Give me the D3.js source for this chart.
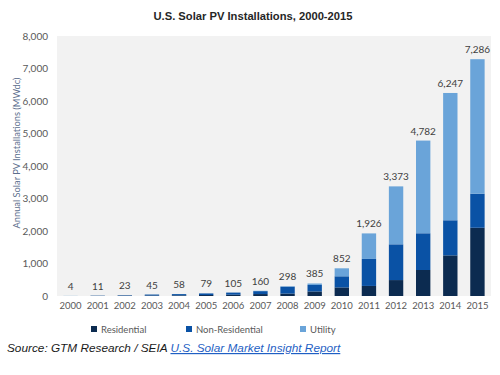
<!DOCTYPE html>
<html>
<head>
<meta charset="utf-8">
<script src="https://cdn.jsdelivr.net/npm/d3@7"></script>
<style>
  body { margin: 0; background: #fff; }
  svg { display: block; }
</style>
</head>
<body>
<svg id="chart"></svg>
<script>
var years = ["2000", "2001", "2002", "2003", "2004", "2005", "2006", "2007",
             "2008", "2009", "2010", "2011", "2012", "2013", "2014", "2015"];
var residential =    [0, 4, 10, 15, 20, 30, 40, 60, 75, 140, 264, 310, 490, 800, 1250, 2100];
var nonResidential = [0, 7, 13, 30, 38, 49, 65, 90, 213, 200, 342, 830, 1100, 1130, 1080, 1047];
var utility =        [4, 0, 0, 0, 0, 0, 0, 10, 10, 45, 246, 786, 1783, 2852, 3917, 4139];
var seriesNames = ["Residential", "Non-Residential", "Utility"];
var yTicks = [0, 1000, 2000, 3000, 4000, 5000, 6000, 7000, 8000];

var colors = ["#0c2b50", "#0a52a5", "#6aa4d9"];
var width = 500, height = 375;
var margin = {left: 57, right: 9, top: 36, bottom: 80};
var labelFont = "Lato, 'DejaVu Sans', sans-serif";

var svg = d3.select("#chart")
    .attr("width", width)
    .attr("height", height);

var rows = years.map((y, i) => ({
    year: y,
    "Residential": residential[i],
    "Non-Residential": nonResidential[i],
    "Utility": utility[i]
}));

var x = d3.scaleBand()
    .domain(years)
    .range([margin.left, width - margin.right])
    .paddingInner(0.47)
    .paddingOuter(0.235);

var y = d3.scaleLinear()
    .domain([0, 8000])
    .range([height - margin.bottom + 1, margin.top]);

// plot background
svg.append("rect")
    .attr("x", margin.left)
    .attr("y", margin.top)
    .attr("width", width - margin.right - margin.left)
    .attr("height", y(0) - margin.top)
    .attr("fill", "#f2f2f2");

var stack = d3.stack().keys(seriesNames)(rows);

svg.append("g").selectAll("g")
    .data(stack)
    .join("g")
    .attr("fill", (d, i) => colors[i])
    .selectAll("rect")
    .data(d => d)
    .join("rect")
    .attr("x", d => x(d.data.year))
    .attr("y", d => y(d[1]))
    .attr("width", x.bandwidth())
    .attr("height", d => Math.max(0, y(d[0]) - y(d[1])));

var topLayer = stack[stack.length - 1];

// total labels
svg.append("g").selectAll("text")
    .data(rows)
    .join("text")
    .attr("x", d => x(d.year) + x.bandwidth() / 2)
    .attr("y", (d, i) => y(topLayer[i][1]) - 6)
    .attr("text-anchor", "middle")
    .style("font-family", labelFont)
    .style("font-size", "10px")
    .style("fill", "#404040")
    .text((d, i) => d3.format(",")(topLayer[i][1]));

// y axis
var yAxis = svg.append("g")
    .attr("transform", `translate(${margin.left},0)`)
    .call(d3.axisLeft(y).tickValues(yTicks).tickFormat(d3.format(",")).tickSize(0).tickPadding(9));
yAxis.select(".domain").remove();
yAxis.selectAll("text")
    .style("font-family", labelFont)
    .style("font-size", "10px")
    .style("fill", "#595959");

// x axis
var xAxis = svg.append("g")
    .attr("transform", `translate(0,${y(0)})`)
    .call(d3.axisBottom(x).tickSize(0).tickPadding(6));
xAxis.select(".domain").remove();
xAxis.selectAll("text")
    .style("font-family", labelFont)
    .style("font-size", "9.5px")
    .style("fill", "#595959");

// y axis title
svg.append("text")
    .attr("transform", "translate(20,153) rotate(-90)")
    .attr("text-anchor", "middle")
    .style("font-family", labelFont)
    .style("font-size", "9.3px")
    .style("fill", "#5d6f8e")
    .text("Annual Solar PV Installations (MWdc)");

// title
svg.append("text")
    .attr("x", 253)
    .attr("y", 20)
    .attr("text-anchor", "middle")
    .style("font-family", "'Liberation Sans', Arial, sans-serif")
    .style("font-weight", "bold")
    .style("font-size", "11.2px")
    .style("fill", "#262626")
    .text("U.S. Solar PV Installations, 2000-2015");

// legend
var legendX = [91, 186, 300];
var legend = svg.append("g").selectAll("g")
    .data(seriesNames)
    .join("g")
    .attr("transform", (d, i) => `translate(${legendX[i]},329)`);
legend.append("rect")
    .attr("x", 0).attr("y", -3)
    .attr("width", 6).attr("height", 6)
    .attr("fill", (d, i) => colors[i]);
legend.append("text")
    .attr("x", 10)
    .attr("y", 3.5)
    .style("font-family", labelFont)
    .style("font-size", "9.5px")
    .style("fill", "#595959")
    .text(d => d);

// source
var src = svg.append("text")
    .attr("x", 7)
    .attr("y", 352)
    .style("font-family", "'Liberation Sans', Arial, sans-serif")
    .style("font-style", "italic")
    .style("font-size", "11.8px")
    .style("fill", "#1a1a1a");
src.append("tspan").text("Source: GTM Research / SEIA ");
src.append("tspan")
    .style("fill", "#1f5fc4")
    .style("text-decoration", "underline")
    .text("U.S. Solar Market Insight Report");
</script>
</body>
</html>
